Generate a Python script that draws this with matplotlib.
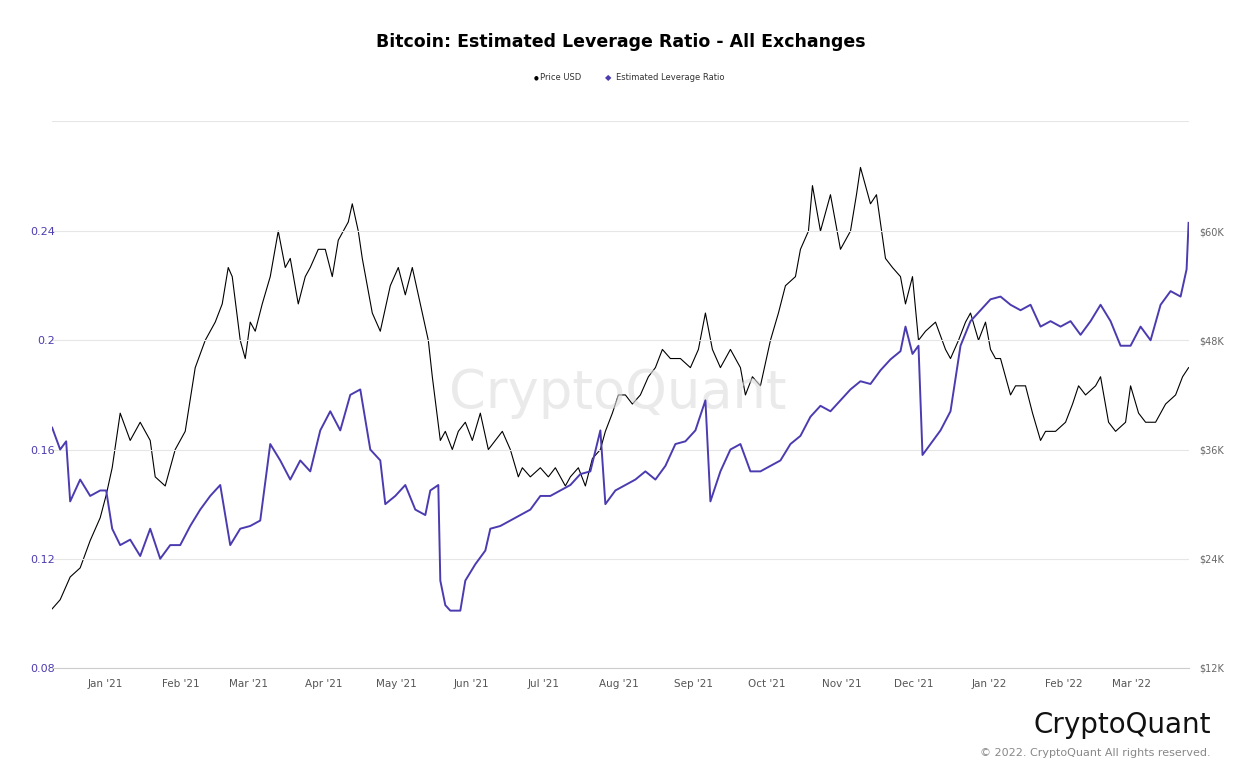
import matplotlib
matplotlib.use("Agg")
import matplotlib.pyplot as plt
import matplotlib.dates as mdates
import pandas as pd
import numpy as np

start = pd.Timestamp("2020-12-10")
PX_PER_DAY = 2.42

lev_x = [52,60,66,70,80,90,100,106,112,120,130,140,150,160,170,180,190,200,210,220,230,240,250,260,270,280,290,300,310,320,330,340,350,360,370,380,385,395,405,415,425,430,438,440,445,450,460,465,475,485,490,500,510,520,530,540,550,560,570,580,590,600,605,615,625,635,645,655,665,675,685,695,705,710,720,730,740,750,760,770,780,790,800,810,820,830,840,850,860,870,880,890,900,905,912,918,922,930,940,950,960,970,980,990,1000,1010,1020,1030,1040,1050,1060,1070,1080,1090,1100,1110,1120,1130,1140,1150,1160,1170,1180,1186,1188]
lev_v = [0.168,0.160,0.163,0.141,0.149,0.143,0.145,0.145,0.131,0.125,0.127,0.121,0.131,0.120,0.125,0.125,0.132,0.138,0.143,0.147,0.125,0.131,0.132,0.134,0.162,0.156,0.149,0.156,0.152,0.167,0.174,0.167,0.180,0.182,0.160,0.156,0.140,0.143,0.147,0.138,0.136,0.145,0.147,0.112,0.103,0.101,0.101,0.112,0.118,0.123,0.131,0.132,0.134,0.136,0.138,0.143,0.143,0.145,0.147,0.151,0.152,0.167,0.140,0.145,0.147,0.149,0.152,0.149,0.154,0.162,0.163,0.167,0.178,0.141,0.152,0.160,0.162,0.152,0.152,0.154,0.156,0.162,0.165,0.172,0.176,0.174,0.178,0.182,0.185,0.184,0.189,0.193,0.196,0.205,0.195,0.198,0.158,0.162,0.167,0.174,0.198,0.207,0.211,0.215,0.216,0.213,0.211,0.213,0.205,0.207,0.205,0.207,0.202,0.207,0.213,0.207,0.198,0.198,0.205,0.200,0.213,0.218,0.216,0.226,0.243]

px_x = [52,60,70,80,90,100,106,112,120,130,140,150,155,165,175,185,195,205,215,222,228,232,240,245,250,255,262,270,278,285,290,298,305,310,318,325,332,338,348,352,358,362,372,380,390,398,405,412,420,428,432,440,445,452,458,465,472,480,488,495,502,510,518,522,530,540,548,555,565,570,578,585,592,600,605,612,618,625,632,640,648,655,662,670,680,690,698,705,712,720,730,740,745,752,760,770,778,785,795,800,808,812,820,830,840,850,856,860,870,876,885,892,900,905,912,918,925,935,945,950,958,965,970,978,985,990,995,1000,1010,1015,1025,1032,1040,1045,1055,1065,1072,1078,1085,1095,1100,1108,1115,1125,1130,1138,1145,1155,1165,1175,1182,1188]
px_v = [18.5,19.5,22,23,26,28.5,31,34,40,37,39,37,33,32,36,38,45,48,50,52,56,55,48,46,50,49,52,55,60,56,57,52,55,56,58,58,55,59,61,63,60,57,51,49,54,56,53,56,52,48,44,37,38,36,38,39,37,40,36,37,38,36,33,34,33,34,33,34,32,33,34,32,35,36,38,40,42,42,41,42,44,45,47,46,46,45,47,51,47,45,47,45,42,44,43,48,51,54,55,58,60,65,60,64,58,60,64,67,63,64,57,56,55,52,55,48,49,50,47,46,48,50,51,48,50,47,46,46,42,43,43,40,37,38,38,39,41,43,42,43,44,39,38,39,43,40,39,39,41,42,44,45]

lev_dates = [start + pd.Timedelta(days=(x - 52) / PX_PER_DAY) for x in lev_x]
px_dates = [start + pd.Timedelta(days=(x - 52) / PX_PER_DAY) for x in px_x]

fig = plt.figure(figsize=(12.42, 7.78), dpi=100)
ax = fig.add_axes([0.042, 0.1414, 0.915, 0.7031])
ax2 = ax.twinx()

ax.plot(lev_dates, lev_v, color="#4b3bb0", lw=1.4, zorder=3)
ax2.plot(px_dates, px_v, color="black", lw=0.8, zorder=2)
ax.set_zorder(ax2.get_zorder() + 1)
ax.patch.set_visible(False)

xmin = start
xmax = start + pd.Timedelta(days=(1188 - 52) / PX_PER_DAY)
ax.set_xlim(xmin, xmax)
ax.set_ylim(0.08, 0.2803)
ax2.set_ylim(12, 72.1)
ax.set_yticks([0.08, 0.12, 0.16, 0.2, 0.24])
ax.set_yticklabels(["0.08", "0.12", "0.16", "0.2", "0.24"])
ax2.set_yticks([12, 24, 36, 48, 60])
ax2.set_yticklabels(["$12K", "$24K", "$36K", "$48K", "$60K"])
ax.grid(axis="y", color="#e6e6e6", lw=0.8)
ax.axhline(0.2803, color="#e6e6e6", lw=0.8)
for a in (ax, ax2):
    for s in a.spines.values():
        s.set_visible(False)
ax.spines["bottom"].set_visible(True)
ax.spines["bottom"].set_color("#cccccc")
ax.tick_params(axis="y", length=0, labelsize=8, labelcolor="#4b3bb0", pad=-2)
ax2.tick_params(axis="y", length=0, labelsize=7, labelcolor="#666666", pad=8)
ax.xaxis.set_major_locator(mdates.MonthLocator())
ax.xaxis.set_major_formatter(mdates.DateFormatter("%b '%y"))
ax.tick_params(axis="x", length=0, labelsize=7.5, labelcolor="#555555", pad=8)

fig.text(0.5, 0.946, "Bitcoin: Estimated Leverage Ratio - All Exchanges", ha="center",
         va="center", fontsize=12.5, fontweight="bold")
fig.text(0.432, 0.900, "●", ha="center", va="center", fontsize=4)
fig.text(0.435, 0.900, "Price USD", ha="left", va="center", fontsize=6, color="#333333")
fig.text(0.490, 0.900, "◆", ha="center", va="center", fontsize=6, color="#4b3bb0")
fig.text(0.496, 0.900, "Estimated Leverage Ratio", ha="left", va="center", fontsize=6, color="#333333")
fig.text(0.497, 0.495, "CryptoQuant", ha="center", va="center", fontsize=38, color="#dddddd",
         alpha=0.6, zorder=0)
fig.text(0.975, 0.068, "CryptoQuant", ha="right", va="center", fontsize=20, color="#111111")
fig.text(0.975, 0.032, "© 2022. CryptoQuant All rights reserved.", ha="right", va="center",
         fontsize=8, color="#888888")
fig.savefig("out.png", dpi=100)
